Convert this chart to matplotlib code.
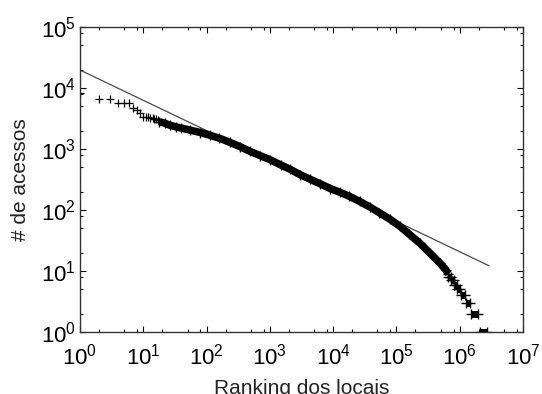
import matplotlib
matplotlib.use('Agg')
import matplotlib.pyplot as plt
from matplotlib.ticker import LogLocator, LogFormatterMathtext, NullFormatter

# ======================
# DATA
# ======================

# sparse head of the ranking: individual points
head_rank = [1, 2, 3, 4, 5, 6, 7, 8, 9, 10, 11, 12, 13, 14, 15, 16, 17]
head_count = [8300, 6500, 6500, 5700, 5700, 5700, 4700, 4400, 3850, 3400,
              3390, 3310, 3260, 3180, 3140, 3070, 3000]

# dense body of the ranking
body_rank = [18, 22, 26, 33, 40, 54, 80, 113, 160, 233, 340, 480, 700, 1000,
             1500, 2050, 3000, 4300, 6200, 9000, 12800, 18000, 26300, 38000,
             54000, 80000, 114000, 160000, 235000, 340000, 490000, 600000,
             660000]
body_count = [2800, 2640, 2460, 2300, 2200, 2050, 1860, 1680, 1500, 1290,
              1090, 920, 780, 670, 545, 470, 380, 320, 270, 225, 195, 168,
              138, 112, 90, 70, 54, 40, 28.5, 19.5, 13.4, 10.5, 9]

# tail: integer counts shared by a run of ranks
tail_count = [8, 7, 6, 5, 4, 3, 2, 1]
tail_first = [6.6e5, 7.3e5, 8.2e5, 9.2e5, 1.05e6, 1.25e6, 1.5e6, 2.1e6]
tail_last = [7.2e5, 8.0e5, 8.9e5, 1.0e6, 1.2e6, 1.45e6, 1.95e6, 2.7e6]

# fitted power law (end points)
fit_rank = [1, 2.9e6]
fit_count = [19700, 12.2]

# ======================
# STYLE
# ======================
plt.rcParams['font.family'] = ['Liberation Sans', 'DejaVu Sans']
plt.rcParams['mathtext.fontset'] = 'custom'
plt.rcParams['mathtext.rm'] = 'Liberation Sans'
plt.rcParams['mathtext.it'] = 'Liberation Sans:italic'
plt.rcParams['mathtext.bf'] = 'Liberation Sans:bold'
plt.rcParams['font.size'] = 15


def generate_graph():
    fig = plt.figure(figsize=(5.42, 3.94), dpi=100)
    ax = fig.add_axes([80 / 542, 62 / 394, 443 / 542, 305 / 394])

    ax.plot(fit_rank, fit_count, color='#4a4a4a', lw=0.9, zorder=1)

    ax.plot(head_rank, head_count, '+', color='black', ms=5.5, mew=0.9,
            zorder=2)
    ax.plot(body_rank, body_count, '-', color='black', lw=5.4,
            solid_capstyle='butt', solid_joinstyle='round', zorder=2)
    ax.plot(body_rank, body_count, '+', color='black', ms=6.5, mew=1,
            zorder=2)

    ax.hlines(tail_count, tail_first, tail_last, color='black', lw=5,
              zorder=2)
    ax.plot(tail_first + tail_last, tail_count + tail_count, '+',
            color='black', ms=6.5, mew=1, zorder=2)

    ax.set_xscale('log')
    ax.set_yscale('log')
    ax.set_xlim(1, 1e7)
    ax.set_ylim(1, 1e5)

    for axis in (ax.xaxis, ax.yaxis):
        axis.set_major_locator(LogLocator(base=10, numticks=20))
        axis.set_major_formatter(LogFormatterMathtext())
        axis.set_minor_locator(LogLocator(base=10, subs=(2, 5, 8), numticks=20))
        axis.set_minor_formatter(NullFormatter())

    ax.tick_params(which='both', direction='in', top=True, right=True,
                   width=0.8, colors='black')
    ax.tick_params(which='major', length=4.5)
    ax.tick_params(which='minor', length=2.5)
    ax.tick_params(axis='x', which='major', pad=8, labelsize=16)
    ax.tick_params(axis='y', which='major', pad=3, labelsize=16)

    for sp in ax.spines.values():
        sp.set_linewidth(1.0)
        sp.set_color('#333333')

    ax.set_xlabel('Ranking dos locais', fontsize=15, color='#222222')
    ax.set_ylabel('# de acessos', fontsize=15, color='#222222')
    ax.xaxis.set_label_coords(0.5, -0.154)
    ax.yaxis.set_label_coords(-0.113, 0.5)

    fig.savefig('out.png', dpi=100)


if __name__ == '__main__':
    generate_graph()
